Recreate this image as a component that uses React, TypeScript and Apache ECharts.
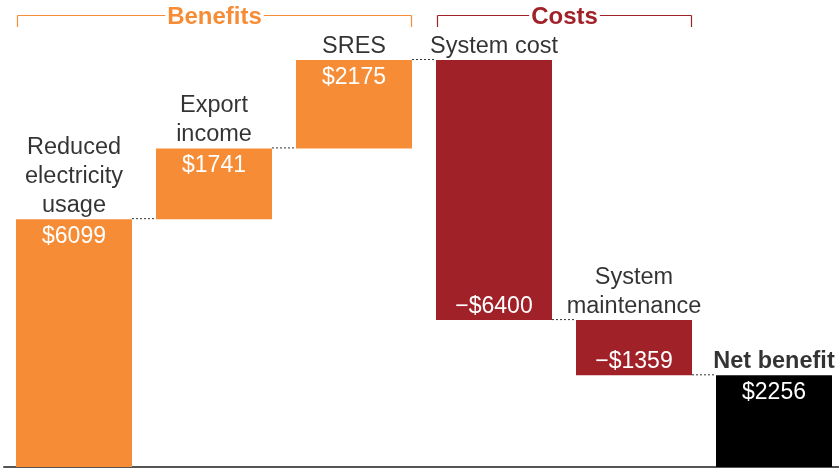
import React, { useEffect, useRef } from 'react';
import * as echarts from 'echarts';

const categories = ['Reduced\nelectricity\nusage', 'Export\nincome', 'SRES', 'System cost', 'System\nmaintenance', 'Net benefit'];
const changes = [6099, 1741, 2175, -6400, -1359];
const netBenefit = 2256;
const groups = [
  { name: 'Benefits', from: 0, to: 2, kind: 'up' },
  { name: 'Costs', from: 3, to: 4, kind: 'down' },
];

const ORANGE = '#F68D36';
const RED = '#A02128';
const BLACK = '#000000';
const FONT = '"Liberation Sans", Arial, Helvetica, sans-serif';
const BAR_W = 116;

export default function App() {
  const ref = useRef<HTMLDivElement>(null);
  useEffect(() => {
    const chart = echarts.init(ref.current!, null, { renderer: 'svg' });
    let run = 0;
    const bases: number[] = [];
    const heights: number[] = [];
    const tops: number[] = [];
    const colors: string[] = [];
    const valueLabels: string[] = [];
    const labelPos: string[] = [];
    const levels: number[] = [];
    changes.forEach((c) => {
      if (c >= 0) {
        bases.push(run); heights.push(c); run += c; tops.push(run);
        colors.push(ORANGE); valueLabels.push('$' + c); labelPos.push('insideTop');
      } else {
        bases.push(run + c); heights.push(-c); tops.push(run); run += c;
        colors.push(RED); valueLabels.push('\u2212$' + -c); labelPos.push('insideBottom');
      }
      levels.push(run);
    });
    bases.push(0); heights.push(netBenefit); tops.push(netBenefit);
    colors.push(BLACK); valueLabels.push('$' + netBenefit); labelPos.push('insideTop');

    chart.setOption({
      animation: false,
      grid: { left: 4, top: 20, right: 0, bottom: 1 },
      xAxis: {
        type: 'category',
        data: categories,
        axisLine: { lineStyle: { color: '#555', width: 2 } },
        axisTick: { show: false },
        axisLabel: { show: false },
      },
      yAxis: { type: 'value', min: 0, max: 11000, show: false, splitLine: { show: false } },
      series: [
        {
          type: 'bar', stack: 'w', barWidth: BAR_W, silent: true,
          itemStyle: { color: 'transparent' },
          data: bases,
        },
        {
          type: 'bar', stack: 'w', barWidth: BAR_W,
          data: heights.map((h, i) => ({
            value: h,
            itemStyle: { color: colors[i] },
            label: {
              show: true,
              position: labelPos[i],
              distance: labelPos[i] === 'insideTop' ? 5 : 4,
              formatter: valueLabels[i],
              color: '#fff',
              fontSize: 23,
              lineHeight: 22,
              fontFamily: FONT,
            },
          })),
        },
        {
          type: 'scatter', symbolSize: 0, silent: true,
          data: tops.map((t, i) => ({
            value: [i, t],
            label: {
              show: true,
              position: 'top',
              distance: 1,
              formatter: categories[i],
              color: '#000',
              fontSize: 23.5,
              lineHeight: 29,
              fontFamily: FONT,
              fontWeight: i === tops.length - 1 ? 'bold' : 'normal',
              align: 'center',
            },
          })),
        },
        {
          type: 'custom', silent: true,
          data: levels.map((l, i) => [i, l]),
          renderItem: (params: any, api: any) => {
            const p = api.coord([api.value(0), api.value(1)]);
            const w = api.size([1, 0])[0];
            const y = p[1] - 0.5;
            return {
              type: 'line',
              shape: { x1: p[0] + BAR_W / 2, y1: y, x2: p[0] + w - BAR_W / 2, y2: y },
              style: { stroke: '#333', lineWidth: 1, lineDash: [2, 2] },
            };
          },
        },
      ],
    });

    const xc = (i: number) => chart.convertToPixel({ xAxisIndex: 0 }, i) as number;
    const graphic: any[] = [];
    groups.forEach((g) => {
      const color = g.kind === 'up' ? ORANGE : RED;
      const left = xc(g.from) - BAR_W / 2 + 1.5;
      const right = xc(g.to) + BAR_W / 2 - 0.5;
      const y = 15.5;
      const lineStyle = { stroke: color, lineWidth: 1.2 };
      graphic.push({ type: 'line', z: 10, shape: { x1: left, y1: y, x2: right, y2: y }, style: lineStyle });
      graphic.push({ type: 'line', z: 10, shape: { x1: left, y1: y, x2: left, y2: 27 }, style: lineStyle });
      graphic.push({ type: 'line', z: 10, shape: { x1: right, y1: y, x2: right, y2: 27 }, style: lineStyle });
      graphic.push({
        type: 'text',
        x: (left + right) / 2,
        y: y,
        z: 11,
        style: {
          text: g.name,
          fill: color,
          font: 'bold 24px ' + FONT,
          align: 'center',
          verticalAlign: 'middle',
          backgroundColor: '#fff',
          padding: [0, 2],
        },
      });
    });
    chart.setOption({ graphic });

    return () => chart.dispose();
  }, []);
  return <div ref={ref} style={{ position: 'fixed', left: 0, top: 0, width: 844, height: 468 }} />;
}
